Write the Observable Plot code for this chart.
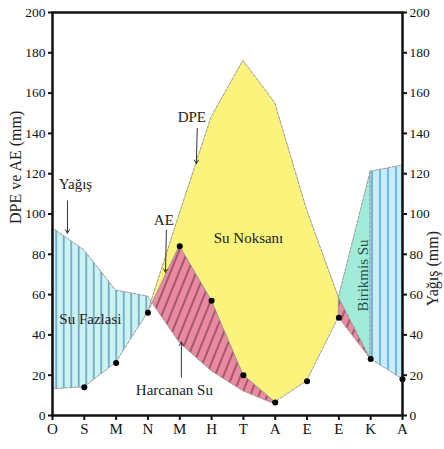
<!DOCTYPE html>
<html><head><meta charset="utf-8">
<script src="https://cdn.jsdelivr.net/npm/d3@7"></script>
<script src="https://cdn.jsdelivr.net/npm/@observablehq/plot@0.6"></script>
<style>body{margin:0;background:#fff;}</style>
</head><body><div id="chart"></div>
<script>
// Months (Ocak ... Aralık)
const months = ["O","S","M","N","M","H","T","A","E","E","K","A"];
// Yağış (precipitation, mm)
const yagis = [93, 82, 62, 59, 36, 22, 12, 5.5, 17, 58.5, 121, 124];
// DPE (potential evapotranspiration, mm)
const dpe = [13, 14, 26, 51, 100, 148, 176, 155, 102, 58.5, 28, 18];
// AE (actual evapotranspiration, mm)
const ae = [13, 14, 26, 51, 84, 57, 20, 6.5, 17, 48.5, 28, 18];
const yTicks = [0, 20, 40, 60, 80, 100, 120, 140, 160, 180, 200];

// annotation texts (data units: month index, mm)
const notes = [
  {text: "Yağış", x: 0.72, y: 115},
  {text: "DPE", x: 4.38, y: 148},
  {text: "AE", x: 3.5, y: 97},
  {text: "Su Noksanı", x: 6.16, y: 88},
  {text: "Su Fazlasi", x: 1.19, y: 48},
  {text: "Harcanan Su", x: 3.83, y: 12.5}
];
const rotNotes = [{text: "Birikmis Su", x: 9.77, y: 69.5}];
const pointers = [
  {x1: 0.47, y1: 106.5, x2: 0.47, y2: 90.5},
  {x1: 4.55, y1: 142.5, x2: 4.52, y2: 125},
  {x1: 3.58, y1: 92, x2: 3.55, y2: 71},
  {x1: 4.05, y1: 19, x2: 4.05, y2: 36.5}
];

// build region tables from the series
const span = (i0, i1, lo, hi) => d3.range(i0, i1 + 1).map(i => ({x: i, y1: lo[i], y2: hi[i]}));
// crossing of Yağış and AE between N (3) and M (4)
const d3v = yagis[3] - ae[3], d4v = yagis[4] - ae[4];
const t = d3v / (d3v - d4v);
const xc = 3 + t, yc = yagis[3] + t * (yagis[4] - yagis[3]);
const surplusL = [...span(0, 3, ae, yagis), {x: xc, y1: yc, y2: yc}];
const usedL = [{x: xc, y1: yc, y2: yc}, ...span(4, 7, yagis, ae)];
const deficit = span(3, 9, ae, dpe);
const usedR = span(9, 10, ae, dpe);
const recharge = span(9, 10, dpe, yagis);
const surplusR = span(10, 11, dpe, yagis);

const outline = {stroke: "#9a9a9a", strokeWidth: 1, strokeDasharray: "3,1.5"};
const font = "Liberation Serif, Times New Roman, serif";

const svg = Plot.plot({
  width: 444,
  height: 449,
  marginLeft: 52,
  marginRight: 42,
  marginTop: 12,
  marginBottom: 34,
  style: {fontFamily: font, background: "#fff", color: "#111"},
  x: {domain: [0, 11]},
  y: {domain: [0, 200]},
  marks: [
    Plot.areaY(surplusL, {x: "x", y1: "y1", y2: "y2", fill: "url(#stripeBlue)", ...outline}),
    Plot.areaY(deficit, {x: "x", y1: "y1", y2: "y2", fill: "#fbf37c", ...outline}),
    Plot.areaY(usedL, {x: "x", y1: "y1", y2: "y2", fill: "url(#stripePink)", ...outline}),
    Plot.areaY(usedR, {x: "x", y1: "y1", y2: "y2", fill: "url(#stripePink)", ...outline}),
    Plot.areaY(recharge, {x: "x", y1: "y1", y2: "y2", fill: "#a2ebd8", ...outline}),
    Plot.areaY(surplusR, {x: "x", y1: "y1", y2: "y2", fill: "url(#stripeBlue2)", ...outline}),
    Plot.dot(d3.range(1, 12), {x: i => i, y: i => ae[i], r: 3, fill: "#000"}),
    Plot.arrow(pointers, {x1: "x1", y1: "y1", x2: "x2", y2: "y2", stroke: "#333", strokeWidth: 1, headLength: 6}),
    Plot.text(notes, {x: "x", y: "y", text: "text", fontSize: 15, fill: "#222"}),
    Plot.text(rotNotes, {x: "x", y: "y", text: "text", fontSize: 15, rotate: -90, fill: "#1f4f4a"}),
    Plot.frame({stroke: "#111", strokeWidth: 2.5}),
    Plot.axisY({ticks: yTicks, anchor: "left", tickSize: 4, tickPadding: 3, fontSize: 13.5, strokeWidth: 2, label: null}),
    Plot.axisY({ticks: yTicks, anchor: "right", tickSize: 4, tickPadding: 3, fontSize: 13.5, strokeWidth: 2, label: null}),
    Plot.axisX({ticks: d3.range(12), anchor: "bottom", tickSize: 5, tickPadding: 3, fontSize: 15, strokeWidth: 2, tickFormat: i => months[i], label: null}),
    Plot.text(["DPE ve AE (mm)"], {text: d => d, frameAnchor: "left", dx: -37, dy: 10, rotate: -90, fontSize: 16, fill: "#222"}),
    Plot.text(["Yağış (mm)"], {text: d => d, frameAnchor: "right", dx: 30, dy: 17, rotate: -90, fontSize: 16, fill: "#222"})
  ]
});

const defs = d3.select(svg).insert("defs", ":first-child");
function stripes(id, bg, fg, w, angle, sw) {
  const p = defs.append("pattern").attr("id", id).attr("patternUnits", "userSpaceOnUse")
    .attr("width", w).attr("height", w).attr("patternTransform", `rotate(${angle})`);
  p.append("rect").attr("width", w).attr("height", w).attr("fill", bg);
  p.append("line").attr("x1", w / 2).attr("x2", w / 2).attr("y1", 0).attr("y2", w)
    .attr("stroke", fg).attr("stroke-width", sw);
}
stripes("stripeBlue", "#c9f3f6", "#4f86a0", 7.5, 0, 1.2);
stripes("stripeBlue2", "#c6eefa", "#4a96d4", 8, 0, 1.3);
stripes("stripePink", "#e98aa0", "#6e2d40", 8, 22, 1.1);

document.getElementById("chart").appendChild(svg);
</script>
</body></html>
